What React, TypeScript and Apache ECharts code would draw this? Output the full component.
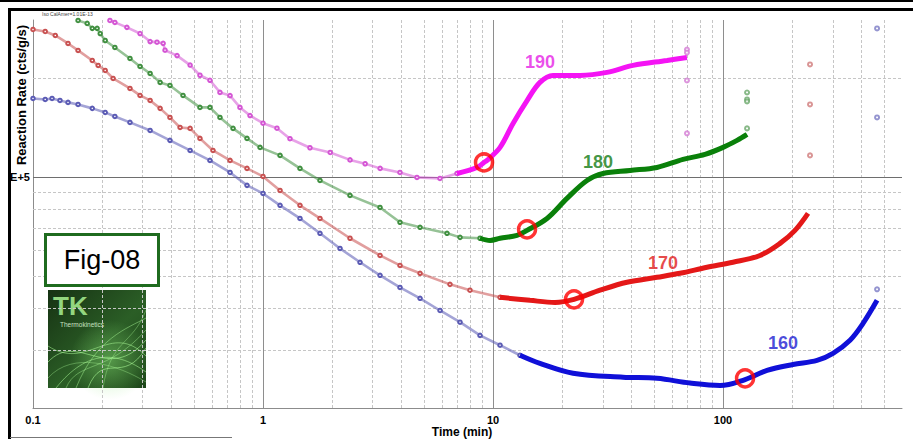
import React, { useEffect, useRef } from 'react';
import * as echarts from 'echarts';

// ---------- data (time in min, reaction rate in cts/g/s) ----------
const magentaMarkers: [number, number][] = [
  [0.216, 299000], [0.227, 295000], [0.256, 285000], [0.292, 273000], [0.323, 258000],
  [0.346, 257000], [0.368, 255000], [0.375, 243000], [0.423, 234000], [0.482, 219000],
  [0.532, 204000], [0.588, 197000], [0.65, 181000], [0.719, 177000], [0.794, 163000],
  [0.878, 154000], [1.0, 146000], [1.15, 141000], [1.31, 131000], [1.6, 123000],
  [1.96, 119000], [2.39, 113000], [2.78, 110000], [3.23, 106500], [3.94, 103500],
  [4.67, 100000], [5.88, 99300], [6.97, 102800],
];
const magentaLine: [number, number][] = [
  [6.97, 102800], [8.52, 107200], [9.14, 111000], [9.42, 112600], [10.73, 123300],
  [12.22, 145800], [14.06, 171000], [16.0, 194100], [18.23, 203800], [23.89, 203800],
  [31.31, 208100], [40.6, 218500], [57.1, 226200], [69.7, 231000],
];
const magentaOutliers: [number, number][] = [
  [69.7, 244000], [69.7, 239000], [69.7, 196700], [69.7, 136000],
];

const greenMarkers: [number, number][] = [
  [0.157, 299000], [0.172, 293000], [0.181, 283000], [0.19, 283000], [0.196, 273000],
  [0.206, 260000], [0.227, 247700], [0.264, 229400], [0.292, 217000], [0.323, 206600],
  [0.357, 194100], [0.394, 190000], [0.449, 177200], [0.532, 163000], [0.588, 163000],
  [0.65, 152000], [0.741, 140800], [0.852, 131300], [0.971, 123300], [1.186, 116600],
  [1.448, 106500], [1.769, 97900], [2.389, 88200], [3.227, 81100], [3.941, 73100],
  [4.817, 70600], [6.31, 67700], [7.19, 65800], [8.78, 65400],
];
const greenLine: [number, number][] = [
  [8.78, 65400], [9.71, 64400], [10.73, 65400], [12.72, 66700], [14.06, 69100],
  [17.17, 75100], [20.97, 86400], [25.63, 97900], [30.08, 102800], [39.41, 105000],
  [51.64, 107200], [67.0, 113400], [83.5, 117400], [100, 123300], [115.1, 129500],
  [127.2, 135000],
];
const greenOutliers: [number, number][] = [
  [127.2, 180900], [127.2, 172300], [127.2, 169900], [127.2, 140800],
];

const redMarkers: [number, number][] = [
  [0.1, 280800], [0.113, 276900], [0.125, 269300], [0.142, 254700], [0.157, 242600],
  [0.181, 226200], [0.192, 218500], [0.206, 211000], [0.223, 199500], [0.264, 186100],
  [0.292, 177200], [0.323, 171100], [0.357, 161900], [0.394, 152000], [0.436, 141700],
  [0.482, 140800], [0.532, 131300], [0.606, 120700], [0.719, 112600], [0.852, 106500],
  [1.0, 100700], [1.186, 91300], [1.448, 82300], [1.769, 75100], [2.389, 65400],
  [3.227, 58000], [3.941, 54100], [4.817, 51200], [6.5, 47400], [7.94, 45500],
  [10.73, 43300],
];
const redLine: [number, number][] = [
  [10.73, 43300], [14.48, 42400], [18.6, 41800], [22.5, 42700], [29.19, 45500],
  [38.23, 48100], [51.64, 49800], [65.0, 51200], [85.2, 53400], [110.5, 55300],
  [144.8, 58000], [176.9, 63100], [205.6, 69100], [234.2, 77800],
];
const redOutliers: [number, number][] = [
  [238.9, 220000], [238.9, 166400], [238.9, 116600],
];

const blueMarkers: [number, number][] = [
  [0.1, 173500], [0.113, 172300], [0.121, 173500], [0.131, 171100], [0.142, 168800],
  [0.157, 166400], [0.181, 161900], [0.206, 157400], [0.227, 153000], [0.264, 146800],
  [0.323, 138800], [0.394, 129500], [0.482, 120700], [0.588, 112600], [0.719, 103500],
  [0.852, 94600], [1.0, 89400], [1.186, 82300], [1.448, 75100], [1.769, 67700],
  [2.162, 60900], [2.641, 55300], [3.227, 50500], [3.941, 46400], [4.817, 43000],
  [5.884, 39500], [7.188, 36400], [8.781, 33200], [10.73, 31000], [13.1, 28900],
];
const blueLine: [number, number][] = [
  [13.1, 28900], [16.0, 27300], [22.28, 25500], [36.75, 24800], [51.64, 24600],
  [71.88, 23800], [97.05, 23400], [124.7, 24400], [155.4, 26000], [201.5, 27100],
  [256.3, 27900], [300.8, 29300], [356.6, 32100], [406.2, 36100], [467.4, 42400],
];
const blueOutliers: [number, number][] = [
  [467.4, 282800], [467.4, 152000], [467.4, 45800],
];

const onsetPoints: [number, number][] = [
  [9.14, 111000], [14.06, 69600], [22.5, 42700], [124.7, 24600],
];

const curveNames = ['190', '180', '170', '160'];
const curveNamePositions: [number, number][] = [
  [16.0, 223100], [28.6, 111000], [54.8, 54900], [182.3, 31400],
];

const xTickLabels = ['0.1', '1', '10', '100'];
const xMajorGrid = [1, 10, 100];
const xMinorGrid = [
  0.2, 0.3, 0.4, 0.5, 0.6, 0.7, 0.8, 0.9,
  2, 3, 4, 5, 6, 7, 8, 9,
  20, 30, 40, 50, 60, 70, 80, 90,
  200, 300, 400, 500,
];
const yMajorGrid = [100000];
const yMinorGrid = [30000, 40000, 50000, 60000, 70000, 80000, 90000, 200000];
const yTickLabel = 'E+5';

const X_MIN = 0.1;
const X_MAX = 600;
const Y_MIN = 20000;
const Y_MAX = 300000;

const FONT = "'Liberation Sans', Arial, sans-serif";
const NARROW = "'Liberation Sans Narrow', 'Liberation Sans', Arial, sans-serif";

const colorsEarly = ['#d455d4', '#3f8f3f', '#c85050', '#5a5ab4'];
const colorsLate = ['#f414f4', '#0a800a', '#e41818', '#1010d8'];
const colorsOut = ['#d47cd4', '#6aa86a', '#d07a7a', '#7a7ac4'];
const labelColors = ['#e61ee6', '#127a12', '#e01a1a', '#1c1cd2'];

function markerSeries(data: [number, number][], color: string) {
  return {
    type: 'line',
    data,
    showSymbol: true,
    showAllSymbol: true,
    symbol: 'emptyCircle',
    symbolSize: 3.5,
    itemStyle: { color, borderWidth: 1 },
    lineStyle: { color, width: 2.6, opacity: 0.55 },
    silent: true,
    z: 6,
  };
}
function thickSeries(data: [number, number][], color: string) {
  return {
    type: 'line',
    data,
    smooth: 0.35,
    showSymbol: false,
    lineStyle: { color, width: 5 },
    silent: true,
    z: 7,
  };
}
function outlierSeries(data: [number, number][], color: string) {
  return {
    type: 'scatter',
    data,
    symbol: 'emptyCircle',
    symbolSize: 4,
    itemStyle: { color, borderWidth: 1 },
    silent: true,
    z: 6,
  };
}

export default function App() {
  const ref = useRef<HTMLDivElement>(null);

  useEffect(() => {
    if (!ref.current) return;
    const chart = echarts.init(ref.current, null, { renderer: 'svg' });

    const logo = {
      type: 'group',
      x: 48,
      y: 290,
      z: 100,
      children: [
        {
          type: 'rect',
          shape: { x: 0, y: 0, width: 98, height: 98 },
          style: {
            fill: new echarts.graphic.LinearGradient(0, 0, 1, 1, [
              { offset: 0, color: '#163213' },
              { offset: 0.55, color: '#2b5e26' },
              { offset: 1, color: '#1d4619' },
            ]),
          },
        },
        {
          type: 'circle',
          shape: { cx: 62, cy: 70, r: 40 },
          style: {
            fill: new echarts.graphic.RadialGradient(0.5, 0.5, 0.5, [
              { offset: 0, color: 'rgba(140,230,120,0.45)' },
              { offset: 1, color: 'rgba(140,230,120,0)' },
            ]),
          },
        },
        ...[
          [0, 72, 30, 40, 60, 95, 98, 50, 0.55],
          [8, 98, 40, 58, 70, 62, 98, 82, 0.5],
          [28, 98, 48, 48, 80, 38, 98, 28, 0.45],
          [0, 56, 40, 82, 62, 30, 98, 66, 0.5],
          [18, 98, 30, 70, 58, 85, 98, 40, 0.4],
          [40, 98, 55, 60, 75, 96, 98, 58, 0.55],
          [0, 88, 25, 60, 70, 75, 98, 92, 0.35],
          [55, 98, 62, 50, 85, 55, 98, 20, 0.35],
        ].map((c) => ({
          type: 'bezierCurve',
          shape: { x1: c[0], y1: c[1], cpx1: c[2], cpy1: c[3], cpx2: c[4], cpy2: c[5], x2: c[6], y2: c[7] },
          style: { stroke: `rgba(175,255,155,${c[8]})`, lineWidth: 1, fill: 'none' },
        })),
        {
          type: 'text',
          x: 5,
          y: 3,
          style: {
            text: 'TK',
            font: `bold 26px ${FONT}`,
            fill: '#93d67f',
            textVerticalAlign: 'top',
            verticalAlign: 'top',
          },
        },
        {
          type: 'text',
          x: 12,
          y: 31,
          style: {
            text: 'Thermokinetics',
            font: `6.5px ${FONT}`,
            fill: '#c8e2c0',
            textVerticalAlign: 'top',
            verticalAlign: 'top',
          },
        },
      ],
    };

    const gridLineSeries = (items: any[], lineStyle: any) => ({
      type: 'line',
      data: [],
      silent: true,
      z: 1,
      markLine: {
        silent: true,
        z: 1,
        symbol: ['none', 'none'],
        label: { show: false },
        lineStyle,
        data: items,
      },
    });

    const option: any = {
      animation: false,
      backgroundColor: '#ffffff',
      grid: { left: 33, right: 11, top: 20, bottom: 31, containLabel: false },
      xAxis: {
        type: 'log',
        logBase: 10,
        min: X_MIN,
        max: X_MAX,
        axisLine: { show: true, lineStyle: { color: '#8c8c8c', width: 1 } },
        axisTick: { show: false },
        splitLine: { show: false },
        axisLabel: {
          margin: 6,
          color: '#000',
          fontSize: 11,
          fontWeight: 'bold',
          fontFamily: NARROW,
          showMaxLabel: false,
          formatter: (v: number) => {
            const s = xTickLabels.find((t) => Math.abs(Number(t) - v) < 1e-6 * Math.max(1, v));
            return s ?? '';
          },
        },
      },
      yAxis: {
        type: 'log',
        logBase: 10,
        min: Y_MIN,
        max: Y_MAX,
        axisLine: { show: true, lineStyle: { color: '#8c8c8c', width: 1 } },
        axisTick: { show: false },
        splitLine: { show: false },
        axisLabel: {
          margin: 3,
          color: '#000',
          fontSize: 11,
          fontWeight: 'bold',
          fontFamily: FONT,
          formatter: (v: number) => (Math.abs(v - yMajorGrid[0]) < 1 ? yTickLabel : ''),
        },
      },
      graphic: [
        { type: 'rect', z: 100, shape: { x: 0, y: 0, width: 913, height: 2 }, style: { fill: '#000' } },
        { type: 'rect', z: 100, shape: { x: 8, y: 8, width: 905, height: 3 }, style: { fill: '#000' } },
        { type: 'rect', z: 100, shape: { x: 8, y: 8, width: 3, height: 431 }, style: { fill: '#000' } },
        { type: 'line', z: 100, shape: { x1: 10, y1: 437.5, x2: 232, y2: 437.5 }, style: { stroke: '#777', lineWidth: 1 } },
        {
          type: 'text', z: 100, x: 42, y: 14,
          style: { text: 'Iso CalAmer=1.01E-13', font: `5px ${FONT}`, fill: '#444', textVerticalAlign: 'middle', verticalAlign: 'middle' },
        },
        {
          type: 'text', z: 100, x: 21, y: 95, rotation: Math.PI / 2,
          style: {
            text: 'Reaction Rate (cts/g/s)', font: `bold 13px ${FONT}`, fill: '#000',
            textAlign: 'center', align: 'center', textVerticalAlign: 'middle', verticalAlign: 'middle',
          },
        },
        {
          type: 'text', z: 100, x: 462, y: 432,
          style: {
            text: 'Time (min)', font: `bold 12px ${NARROW}`, fill: '#000',
            textAlign: 'center', align: 'center', textVerticalAlign: 'middle', verticalAlign: 'middle',
          },
        },
        {
          type: 'rect', z: 100,
          shape: { x: 45.5, y: 234.5, width: 113, height: 51 },
          style: { fill: '#fff', stroke: '#1f6b1f', lineWidth: 3 },
        },
        {
          type: 'text', z: 101, x: 102, y: 260,
          style: {
            text: 'Fig-08', font: `27px ${FONT}`, fill: '#000',
            textAlign: 'center', align: 'center', textVerticalAlign: 'middle', verticalAlign: 'middle',
          },
        },
        logo,
      ],
      series: [
        gridLineSeries(
          [...xMinorGrid.map((v) => ({ xAxis: v })), ...yMinorGrid.map((v) => ({ yAxis: v }))],
          { color: '#c6c6c6', type: [3, 2], width: 1 },
        ),
        gridLineSeries(
          [
            ...xMajorGrid.map((v) => ({ xAxis: v })),
            ...yMajorGrid.map((v) => ({ yAxis: v, lineStyle: { color: '#6e6e6e' } })),
          ],
          { color: '#8e8e8e', type: 'solid', width: 1 },
        ),
        markerSeries(magentaMarkers, colorsEarly[0]),
        markerSeries(greenMarkers, colorsEarly[1]),
        markerSeries(redMarkers, colorsEarly[2]),
        markerSeries(blueMarkers, colorsEarly[3]),
        thickSeries(magentaLine, colorsLate[0]),
        thickSeries(greenLine, colorsLate[1]),
        thickSeries(redLine, colorsLate[2]),
        thickSeries(blueLine, colorsLate[3]),
        outlierSeries(magentaOutliers, colorsOut[0]),
        outlierSeries(greenOutliers, colorsOut[1]),
        outlierSeries(redOutliers, colorsOut[2]),
        outlierSeries(blueOutliers, colorsOut[3]),
        {
          type: 'scatter',
          data: onsetPoints,
          symbol: 'circle',
          symbolSize: 17,
          itemStyle: { color: 'rgba(0,0,0,0)', borderColor: '#ff0000', borderWidth: 3.5 },
          silent: true,
          z: 10,
        },
        {
          type: 'scatter',
          data: curveNames.map((n, i) => ({
            name: n,
            value: curveNamePositions[i],
            label: { color: labelColors[i] },
          })),
          symbolSize: 1,
          itemStyle: { color: 'rgba(0,0,0,0)' },
          silent: true,
          z: 11,
          label: {
            show: true,
            position: 'inside',
            formatter: '{b}',
            fontSize: 18,
            fontWeight: 'bold',
            fontFamily: FONT,
          },
        },
      ],
    };

    chart.setOption(option);
    return () => chart.dispose();
  }, []);

  return (
    <div
      ref={ref}
      style={{ position: 'fixed', left: 0, top: 0, width: 913, height: 439, background: '#fff' }}
    />
  );
}
